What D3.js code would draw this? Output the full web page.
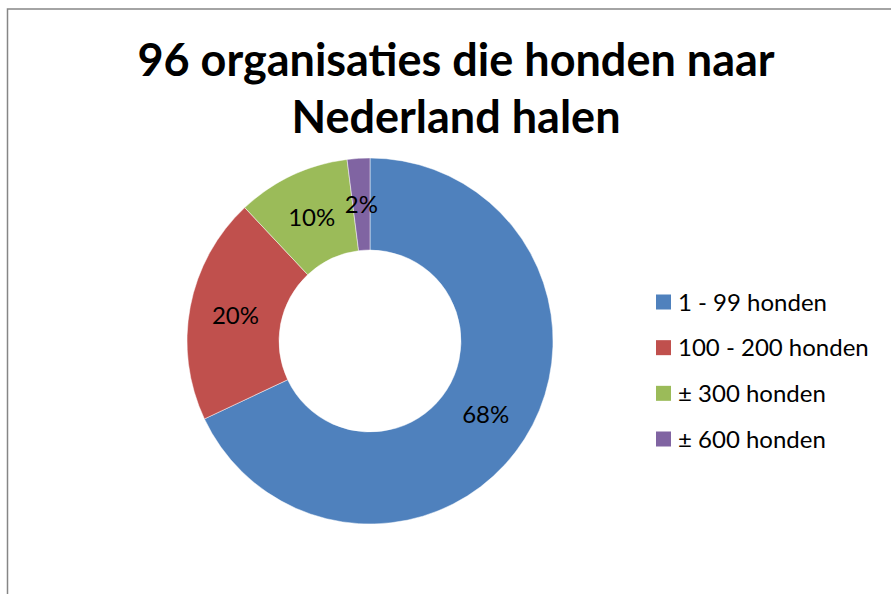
<!DOCTYPE html>
<html>
<head>
<meta charset="utf-8">
<script src="https://cdn.jsdelivr.net/npm/d3@7"></script>
<style>
html,body{margin:0;padding:0;background:#fff;}
svg{display:block;}
</style>
</head>
<body>
<svg id="chart" width="891" height="594"></svg>
<script>
const titleLines = ["96 organisaties die honden naar", "Nederland halen"];
const categories = ["1 - 99 honden", "100 - 200 honden", "± 300 honden", "± 600 honden"];
const values = [68, 20, 10, 2];
const colors = ["#4F81BD", "#C0504D", "#9BBB59", "#8064A2"];

const svg = d3.select("#chart");
const font = "Lato, 'Open Sans', sans-serif";

// frame
svg.append("rect").attr("x", 7.5).attr("y", 9).attr("width", 1000).attr("height", 1000)
  .attr("fill", "#fff").attr("stroke", "#868686").attr("stroke-width", 1.5);

// title
svg.append("text").attr("text-anchor", "middle").attr("font-family", font)
  .attr("font-weight", "bold").attr("font-size", 45).attr("fill", "#000")
  .selectAll("tspan").data(titleLines).join("tspan")
  .attr("x", 456).attr("y", (d, i) => 76 + i * 57).text(d => d);

const cx = 370, cy = 341, rOuter = 183, rInner = 91;
const pie = d3.pie().sort(null).value(d => d);
const arcs = pie(values);
const arc = d3.arc().innerRadius(rInner).outerRadius(rOuter);
const labelArc = d3.arc().innerRadius((rInner + rOuter) / 2).outerRadius((rInner + rOuter) / 2);
const total = d3.sum(values);

const g = svg.append("g").attr("transform", `translate(${cx},${cy})`);
g.selectAll("path").data(arcs).join("path")
  .attr("d", arc).attr("fill", (d, i) => colors[i])
  .attr("stroke", "#fff").attr("stroke-width", 0.8).attr("stroke-opacity", 0.6);

g.selectAll("text.lbl").data(arcs).join("text").attr("class", "lbl")
  .attr("transform", d => `translate(${labelArc.centroid(d)})`)
  .attr("text-anchor", "middle").attr("dy", "0.36em")
  .attr("font-family", font).attr("font-size", 24).attr("fill", "#000")
  .text(d => Math.round(d.data / total * 100) + "%");

// legend
const legY = d3.scalePoint().domain(categories).range([302, 439]);
const leg = svg.append("g");
leg.selectAll("rect").data(categories).join("rect")
  .attr("x", 656).attr("y", d => legY(d) - 7.5).attr("width", 15).attr("height", 15)
  .attr("fill", (d, i) => colors[i]);
leg.selectAll("text").data(categories).join("text")
  .attr("x", 678).attr("y", d => legY(d)).attr("dy", "0.36em")
  .attr("font-family", font).attr("font-size", 24).attr("fill", "#000")
  .text(d => d);
</script>
</body>
</html>
